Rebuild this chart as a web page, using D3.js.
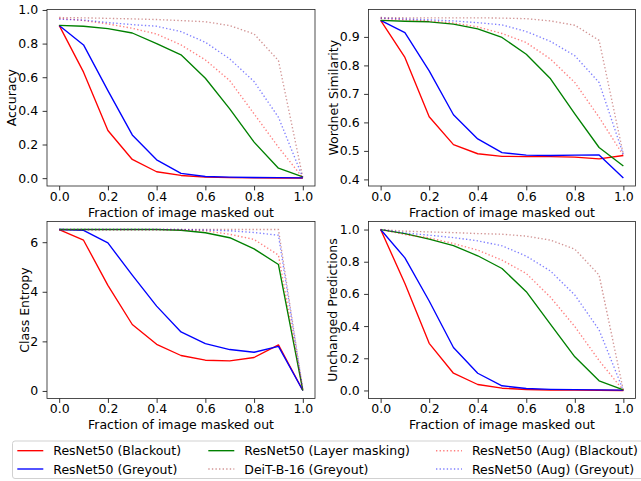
<!DOCTYPE html>
<html><head><meta charset="utf-8">
<script src="https://cdn.jsdelivr.net/npm/d3@7"></script>
<style>body{margin:0;background:#fff} text{font-family:"DejaVu Sans",sans-serif;}</style>
</head><body><svg id="c" width="641" height="481"></svg>
<script>
const fractions = [0, 0.1, 0.2, 0.3, 0.4, 0.5, 0.6, 0.7, 0.8, 0.9, 1.0];
const seriesNames = ["ResNet50 (Blackout)", "ResNet50 (Greyout)", "ResNet50 (Layer masking)", "DeiT-B-16 (Greyout)", "ResNet50 (Aug) (Blackout)", "ResNet50 (Aug) (Greyout)"];
const seriesColors = ["#ff0000", "#0000ff", "#008000", "#a52a2a", "#ff0000", "#0000ff"];
const seriesDotted = [false, false, false, true, true, true];
const xTicks = [0, 0.2, 0.4, 0.6, 0.8, 1.0];
const xLabel = "Fraction of image masked out";

// Accuracy
const accBlackout = [0.908, 0.63, 0.283, 0.111, 0.038, 0.016, 0.006, 0.003, 0.002, 0.001, 0.001];
const accGreyout = [0.908, 0.792, 0.52, 0.257, 0.109, 0.028, 0.01, 0.006, 0.004, 0.003, 0.002];
const accLayer = [0.908, 0.903, 0.889, 0.863, 0.80, 0.733, 0.594, 0.412, 0.214, 0.059, 0.008];
const accDeit = [0.955, 0.953, 0.95, 0.947, 0.943, 0.937, 0.93, 0.907, 0.857, 0.699, 0.003];
const accAugBlackout = [0.95, 0.937, 0.917, 0.891, 0.857, 0.792, 0.703, 0.58, 0.382, 0.184, 0.002];
const accAugGreyout = [0.945, 0.94, 0.925, 0.913, 0.903, 0.871, 0.808, 0.709, 0.574, 0.362, 0.003];
const accTicks = [0, 0.2, 0.4, 0.6, 0.8, 1.0];

// Wordnet similarity
const wnBlackout = [0.958, 0.828, 0.62, 0.522, 0.49, 0.481, 0.48, 0.48, 0.478, 0.472, 0.484];
const wnGreyout = [0.958, 0.915, 0.781, 0.627, 0.542, 0.494, 0.485, 0.484, 0.485, 0.486, 0.405];
const wnLayer = [0.958, 0.955, 0.953, 0.945, 0.928, 0.898, 0.839, 0.753, 0.63, 0.512, 0.447];
const wnDeit = [0.968, 0.967, 0.967, 0.967, 0.967, 0.966, 0.964, 0.956, 0.941, 0.888, 0.487];
const wnAugBlackout = [0.965, 0.96, 0.956, 0.949, 0.935, 0.912, 0.88, 0.822, 0.74, 0.618, 0.484];
const wnAugGreyout = [0.966, 0.963, 0.96, 0.956, 0.95, 0.942, 0.919, 0.884, 0.834, 0.74, 0.487];
const wnTicks = [0.4, 0.5, 0.6, 0.7, 0.8, 0.9];

// Class entropy
const entBlackout = [6.51, 6.08, 4.26, 2.68, 1.88, 1.43, 1.24, 1.21, 1.35, 1.86, 0.02];
const entGreyout = [6.51, 6.48, 5.97, 4.67, 3.42, 2.38, 1.91, 1.67, 1.56, 1.8, 0.02];
const entLayer = [6.51, 6.51, 6.51, 6.51, 6.51, 6.48, 6.38, 6.18, 5.73, 5.1, 0.02];
const entDeit = [6.51, 6.51, 6.51, 6.51, 6.51, 6.51, 6.51, 6.51, 6.51, 6.51, 0.05];
const entAugBlackout = [6.5, 6.5, 6.5, 6.5, 6.5, 6.5, 6.46, 6.32, 6.11, 5.48, 0.05];
const entAugGreyout = [6.51, 6.51, 6.51, 6.51, 6.51, 6.51, 6.49, 6.46, 6.39, 6.28, 0.05];
const entTicks = [0, 2, 4, 6];

// Unchanged predictions
const unBlackout = [1.0, 0.665, 0.293, 0.107, 0.037, 0.014, 0.006, 0.003, 0.002, 0.001, 0.0];
const unGreyout = [1.0, 0.824, 0.556, 0.267, 0.107, 0.029, 0.012, 0.007, 0.005, 0.004, 0.002];
const unLayer = [1.0, 0.975, 0.94, 0.9, 0.837, 0.758, 0.614, 0.411, 0.209, 0.06, 0.004];
const unDeit = [1.0, 0.99, 0.985, 0.981, 0.975, 0.971, 0.959, 0.934, 0.878, 0.717, 0.0];
const unAugBlackout = [1.0, 0.969, 0.948, 0.913, 0.872, 0.81, 0.727, 0.579, 0.397, 0.186, 0.0];
const unAugGreyout = [1.0, 0.979, 0.965, 0.95, 0.93, 0.899, 0.835, 0.742, 0.593, 0.376, 0.0];
const unTicks = [0, 0.2, 0.4, 0.6, 0.8, 1.0];

const panels = [
  {x0: 47, x1: 315, y0: 9.5, y1: 186, yl: "Accuracy", ylx: 15.7, ticks: accTicks, fmt: d3.format(".1f"),
   data: [accBlackout, accGreyout, accLayer, accDeit, accAugBlackout, accAugGreyout]},
  {x0: 368.5, x1: 635.5, y0: 9.5, y1: 186, yl: "Wordnet Similarity", ylx: 337.5, ticks: wnTicks, fmt: d3.format(".1f"),
   data: [wnBlackout, wnGreyout, wnLayer, wnDeit, wnAugBlackout, wnAugGreyout]},
  {x0: 47, x1: 315, y0: 221.5, y1: 398.5, yl: "Class Entropy", ylx: 29, ticks: entTicks, fmt: d3.format("d"),
   data: [entBlackout, entGreyout, entLayer, entDeit, entAugBlackout, entAugGreyout]},
  {x0: 368.5, x1: 635.5, y0: 221.5, y1: 398.5, yl: "Unchanged Predictions", ylx: 337, ticks: unTicks, fmt: d3.format(".1f"),
   data: [unBlackout, unGreyout, unLayer, unDeit, unAugBlackout, unAugGreyout]}
];

const svg = d3.select("#c");
const FS = 12.5;
const dash = "1.35,2.23";

panels.forEach(p => {
  const all = p.data.flat();
  const lo = d3.min(all), hi = d3.max(all), m = (hi - lo) * 0.05;
  const x = d3.scaleLinear().domain([-0.05, 1.05]).range([p.x0, p.x1]);
  const y = d3.scaleLinear().domain([lo - m, hi + m]).range([p.y1, p.y0]);
  const g = svg.append("g");

  const line = d3.line().x((d, i) => x(fractions[i])).y(d => y(d));
  p.data.forEach((arr, k) => {
    g.append("path").datum(arr)
      .attr("d", line)
      .attr("fill", "none")
      .attr("stroke", seriesColors[k])
      .attr("stroke-width", 1.35)
      .attr("stroke-opacity", seriesDotted[k] ? 0.5 : 1)
      .attr("stroke-dasharray", seriesDotted[k] ? dash : null)
      .attr("stroke-linejoin", "round");
  });

  const xa = g.append("g").attr("transform", `translate(0,${p.y1})`)
    .call(d3.axisBottom(x).tickValues(xTicks).tickFormat(d3.format(".1f")).tickSize(4.4).tickPadding(1.5));
  const ya = g.append("g").attr("transform", `translate(${p.x0},0)`)
    .call(d3.axisLeft(y).tickValues(p.ticks).tickFormat(p.fmt).tickSize(4.4).tickPadding(4.4));
  [xa, ya].forEach(a => {
    a.select(".domain").remove();
    a.attr("font-size", FS).attr("font-family", "DejaVu Sans");
    a.selectAll("line").attr("stroke", "#000").attr("stroke-width", 0.8);
    a.selectAll("text").attr("fill", "#000");
  });

  g.append("rect").attr("x", p.x0).attr("y", p.y0)
    .attr("width", p.x1 - p.x0).attr("height", p.y1 - p.y0)
    .attr("fill", "none").attr("stroke", "#222").attr("stroke-width", 0.8);

  g.append("text").attr("x", (p.x0 + p.x1) / 2).attr("y", p.y1 + 30.5)
    .attr("text-anchor", "middle").attr("font-size", FS).text(xLabel);
  g.append("text").attr("transform", `translate(${p.ylx},${(p.y0 + p.y1) / 2}) rotate(-90)`)
    .attr("text-anchor", "middle").attr("font-size", FS).text(p.yl);
});

// Legend
const lg = svg.append("g");
lg.append("rect").attr("x", 12.5).attr("y", 441).attr("width", 640).attr("height", 37.5)
  .attr("rx", 2.5).attr("fill", "#fff").attr("fill-opacity", 0.8)
  .attr("stroke", "#cccccc").attr("stroke-width", 0.9);
const colX = [17.3, 208.3, 436];
const rowY = [450.7, 469];
seriesNames.forEach((name, k) => {
  const cx = colX[Math.floor(k / 2)], cy = rowY[k % 2];
  lg.append("line").attr("x1", cx).attr("x2", cx + 26).attr("y1", cy).attr("y2", cy)
    .attr("stroke", seriesColors[k]).attr("stroke-width", 1.35)
    .attr("stroke-opacity", seriesDotted[k] ? 0.5 : 1)
    .attr("stroke-dasharray", seriesDotted[k] ? dash : null);
  lg.append("text").attr("x", cx + 36).attr("y", cy + 4.6).attr("font-size", FS).text(name);
});
</script></body></html>
